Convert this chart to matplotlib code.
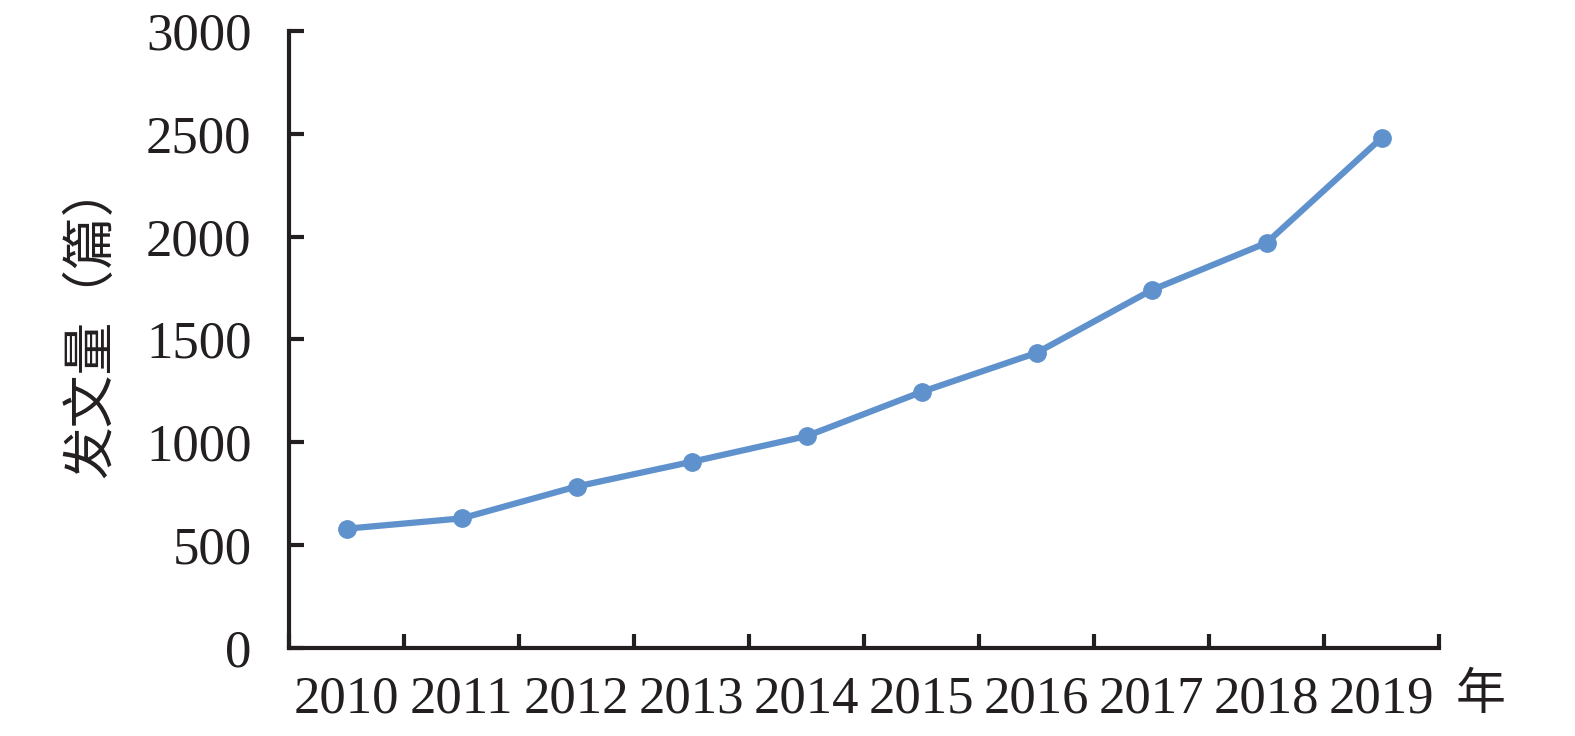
import numpy as np
import matplotlib.pyplot as plt

years = ['2010', '2011', '2012', '2013', '2014', '2015', '2016', '2017', '2018', '2019']
counts = [580, 630, 785, 905, 1030, 1245, 1435, 1740, 1970, 2480]

dark = '#231f20'
blue = '#5f92cd'

fig = plt.figure(figsize=(15.75, 7.36), dpi=100)
ax = fig.add_axes([0.1835, 0.1196, 0.7302, 0.8383])

x = np.arange(len(years)) + 0.5
ax.plot(x, counts, '-o', color=blue, linewidth=4.5, markersize=12.5, solid_capstyle='round')

ax.set_xlim(0, len(years))
ax.set_ylim(0, 3000)
ax.set_yticks(range(0, 3001, 500))
ax.set_xticks(np.arange(len(years) + 1))
ax.set_xticklabels([])
ax.set_xticks(x, minor=True)
ax.set_xticklabels(years, minor=True, family='Liberation Serif', size=38, color=dark)
ax.tick_params(axis='x', which='minor', length=0, pad=20)
ax.tick_params(axis='x', which='major', direction='in', length=10, width=3, color=dark)
ax.tick_params(axis='y', direction='in', length=11, width=3, color=dark, pad=27,
               labelsize=38, labelcolor=dark)
for lab in ax.get_yticklabels():
    lab.set_family('Liberation Serif')

for s in ['top', 'right']:
    ax.spines[s].set_visible(False)
for s in ['left', 'bottom']:
    ax.spines[s].set_linewidth(3)
    ax.spines[s].set_color(dark)

fig.text(0.058, 0.565, '发文量（篇）', rotation=90, ha='center', va='center',
         family=['Noto Sans CJK SC', 'DejaVu Sans'], size=38, color=dark)
fig.text(0.94, 0.056, '年', ha='center', va='center',
         family=['Noto Sans CJK SC', 'DejaVu Sans'], size=36, color=dark)

fig.savefig('out.png', dpi=100)
